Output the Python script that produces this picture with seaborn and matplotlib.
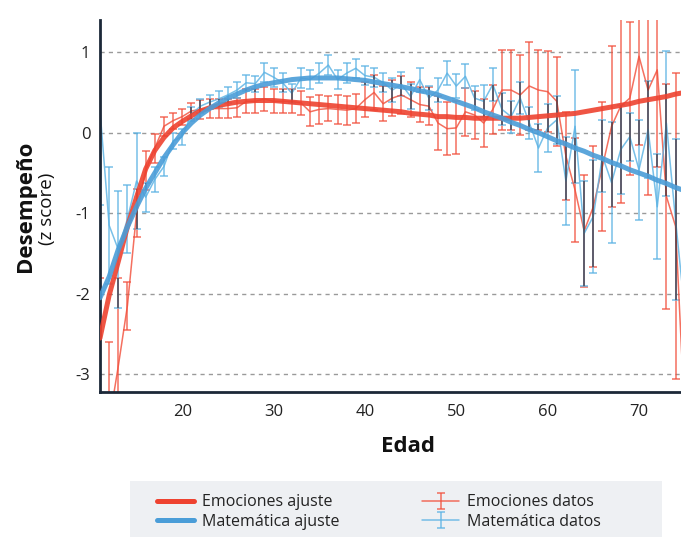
import numpy as np
import pandas as pd
import matplotlib
matplotlib.use("Agg")
import matplotlib.pyplot as plt
import seaborn as sns
from matplotlib.lines import Line2D
from matplotlib.patches import Rectangle

# ---------------- data ----------------
edad = list(range(11, 76))

emociones_datos = [-3.5, -3.6, -2.9, -2.15, -1.0, -0.47, -0.19, 0.08, 0.15, 0.2,
                   0.27, 0.29, 0.3, 0.3, 0.3, 0.31, 0.39, 0.39, 0.42, 0.39,
                   0.39, 0.39, 0.37, 0.26, 0.29, 0.3, 0.29, 0.28, 0.3, 0.41,
                   0.5, 0.36, 0.43, 0.47, 0.41, 0.35, 0.33, 0.12, 0.05, 0.06,
                   0.26, 0.22, 0.12, 0.29, 0.53, 0.53, 0.47, 0.58, 0.53, 0.51,
                   0.39, -0.29, -0.71, -1.22, -0.92, -0.42, 0.08, 0.33, 0.43, 0.95,
                   0.53, 0.78, -0.79, -1.16, -3.5]
emociones_err = [1.7, 1.0, 1.1, 0.3, 0.3, 0.24, 0.18, 0.12, 0.1, 0.1,
                 0.1, 0.12, 0.12, 0.12, 0.12, 0.12, 0.15, 0.15, 0.15, 0.15,
                 0.15, 0.15, 0.15, 0.18, 0.18, 0.16, 0.18, 0.18, 0.18, 0.22,
                 0.22, 0.22, 0.22, 0.24, 0.22, 0.22, 0.24, 0.33, 0.33, 0.33,
                 0.3, 0.3, 0.3, 0.3, 0.5, 0.5, 0.5, 0.55, 0.5, 0.5,
                 0.55, 0.55, 0.65, 0.7, 0.75, 0.8, 1.0, 1.2, 0.95, 1.1,
                 1.3, 1.2, 1.4, 1.9, 2.0]

matematica_datos = [0.28, -1.15, -1.45, -1.07, -0.6, -0.8, -0.58, -0.42, -0.1, -0.05,
                    0.23, 0.33, 0.38, 0.42, 0.47, 0.53, 0.62, 0.61, 0.75, 0.69,
                    0.62, 0.49, 0.68, 0.66, 0.74, 0.84, 0.66, 0.74, 0.80, 0.71,
                    0.69, 0.62, 0.53, 0.6, 0.45, 0.66, 0.43, 0.53, 0.74, 0.58,
                    0.7, 0.43, 0.39, 0.6, 0.29, 0.2, 0.43, 0.12, -0.19, 0.06,
                    0.16, -0.6, 0.08, -1.25, -1.04, -0.29, -0.62, -0.21, -0.05, -0.46,
                    0.04, -0.92, 0.12, -1.08, -2.2]
matematica_err = [1.18, 0.73, 0.73, 0.42, 0.6, 0.18, 0.15, 0.12, 0.1, 0.1,
                  0.09, 0.09, 0.09, 0.1, 0.1, 0.1, 0.1, 0.1, 0.12, 0.12,
                  0.12, 0.12, 0.12, 0.12, 0.12, 0.12, 0.12, 0.12, 0.12, 0.12,
                  0.12, 0.12, 0.15, 0.15, 0.15, 0.15, 0.15, 0.15, 0.15, 0.15,
                  0.15, 0.15, 0.2, 0.2, 0.2, 0.2, 0.2, 0.2, 0.3, 0.3,
                  0.3, 0.55, 0.7, 0.65, 0.7, 0.45, 0.75, 0.55, 0.3, 0.62,
                  0.6, 0.65, 0.9, 1.0, 1.1]

emociones_ajuste = [-2.55, -2.02, -1.6, -1.17, -0.8, -0.45, -0.22, -0.06, 0.06, 0.14,
                    0.21, 0.27, 0.31, 0.34, 0.36, 0.38, 0.39, 0.4, 0.4, 0.4,
                    0.39, 0.38, 0.37, 0.36, 0.35, 0.34, 0.33, 0.32, 0.31, 0.3,
                    0.29, 0.28, 0.27, 0.26, 0.24, 0.23, 0.22, 0.2, 0.2, 0.19,
                    0.19, 0.18, 0.18, 0.18, 0.18, 0.18, 0.18, 0.19, 0.2, 0.21,
                    0.22, 0.23, 0.24, 0.26, 0.28, 0.3, 0.32, 0.34, 0.36, 0.39,
                    0.41, 0.43, 0.45, 0.48, 0.5]
matematica_ajuste = [-2.05, -1.79, -1.45, -1.17, -0.92, -0.69, -0.5, -0.31, -0.15, 0.0,
                     0.12, 0.22, 0.3, 0.37, 0.43, 0.48, 0.53, 0.57, 0.6, 0.62,
                     0.64, 0.66, 0.67, 0.68, 0.68, 0.68, 0.68, 0.67, 0.66, 0.65,
                     0.63, 0.61, 0.59, 0.57, 0.55, 0.52, 0.5, 0.47, 0.43, 0.39,
                     0.35, 0.31, 0.26, 0.22, 0.18, 0.13, 0.09, 0.04, 0.0, -0.05,
                     -0.1, -0.14, -0.19, -0.23, -0.28, -0.32, -0.37, -0.41, -0.46, -0.5,
                     -0.54, -0.59, -0.63, -0.68, -0.72]

x_ticks = [20, 30, 40, 50, 60, 70]
y_ticks = [-3, -2, -1, 0, 1]

# ---------------- style ----------------
sns.set_style("white")
plt.rcParams['font.family'] = ['Open Sans', 'DejaVu Sans']

RED_FIT = '#ee4230'
BLUE_FIT = '#4a9dd8'
RED_DAT = '#f2503c'
BLUE_DAT = '#5ab2e4'
DARK = '#1c2838'

fig = plt.figure(figsize=(6.81, 5.39), dpi=100)
ax = fig.add_axes([100 / 681, 1 - 392 / 539, 581 / 681, (392 - 20) / 539])

ax.set_xlim(11, 74.6)
ax.set_ylim(-3.22, 1.40)

# grid
for yv in y_ticks:
    ax.axhline(yv, color='#9a9a9a', lw=1.0, ls=(0, (3, 3)), zorder=0)

df_fit = pd.DataFrame({
    'edad': edad * 2,
    'valor': emociones_ajuste + matematica_ajuste,
    'serie': ['Emociones ajuste'] * len(edad) + ['Matemática ajuste'] * len(edad),
})

# data with error bars
eb_r = ax.errorbar(edad, emociones_datos, yerr=emociones_err, fmt='-',
                   color=RED_DAT, lw=1.1, elinewidth=1.1, capsize=3, capthick=1.1,
                   alpha=0.82, zorder=2)
eb_b = ax.errorbar(edad, matematica_datos, yerr=matematica_err, fmt='-',
                   color=BLUE_DAT, lw=1.1, elinewidth=1.1, capsize=3, capthick=1.1,
                   alpha=0.82, zorder=2)

# dark overlap of both error bars
r_lo = np.array(emociones_datos) - np.array(emociones_err)
r_hi = np.array(emociones_datos) + np.array(emociones_err)
b_lo = np.array(matematica_datos) - np.array(matematica_err)
b_hi = np.array(matematica_datos) + np.array(matematica_err)
lo = np.maximum(r_lo, b_lo)
hi = np.minimum(r_hi, b_hi)
mask = hi > lo
ax.vlines(np.array(edad)[mask], lo[mask], hi[mask], color='#3b2a30',
          lw=1.1, alpha=0.75, zorder=3)

# fitted curves
sns.lineplot(data=df_fit, x='edad', y='valor', hue='serie',
             palette={'Emociones ajuste': RED_FIT, 'Matemática ajuste': BLUE_FIT},
             linewidth=3.6, alpha=0.9, legend=False, ax=ax, zorder=4)

# spines / ticks
for s in ['top', 'right']:
    ax.spines[s].set_visible(False)
for s in ['left', 'bottom']:
    ax.spines[s].set_color(DARK)
    ax.spines[s].set_linewidth(2.0)
ax.set_xticks(x_ticks)
ax.set_yticks(y_ticks)
ax.set_xticklabels([str(v) for v in x_ticks])
ax.set_yticklabels([str(v) for v in y_ticks])
ax.tick_params(axis='both', direction='in', length=3, width=2, color=DARK,
               labelsize=12, labelcolor='#222222')
ax.tick_params(axis='x', pad=9)
ax.tick_params(axis='y', pad=7)
ax.set_xlabel('')
ax.set_ylabel('')

fig.text(25 / 681, 1 - 206 / 539, 'Desempeño', rotation=90, ha='center',
         va='center', fontsize=16, fontweight='bold', color='#111111')
fig.text(47 / 681, 1 - 209 / 539, '(z score)', rotation=90, ha='center',
         va='center', fontsize=13.5, color='#111111')
fig.text(408 / 681, 1 - 447 / 539, 'Edad', ha='center', va='center',
         fontsize=16, fontweight='bold', color='#111111')

# legend background
fig.patches.append(Rectangle((130 / 681, 1 - 537 / 539), 532 / 681, 56 / 539,
                             transform=fig.transFigure, facecolor='#eef0f3',
                             edgecolor='none', zorder=0))

h_r = Line2D([], [], color=RED_FIT, lw=3.6)
h_b = Line2D([], [], color=BLUE_FIT, lw=3.6)
handles = [h_r, h_b, eb_r, eb_b]
labels = ['Emociones ajuste', 'Matemática ajuste', 'Emociones datos', 'Matemática datos']
leg = fig.legend(handles, labels, ncol=2, loc='center left',
                 bbox_to_anchor=(157 / 681, 1 - 512 / 539),
                 frameon=False, fontsize=11.5,
                 handlelength=2.3, handletextpad=0.5, labelspacing=0.2,
                 columnspacing=5.2, borderpad=0, borderaxespad=0)
for t in leg.get_texts():
    t.set_color('#222222')

fig.savefig('out.png', dpi=100)
